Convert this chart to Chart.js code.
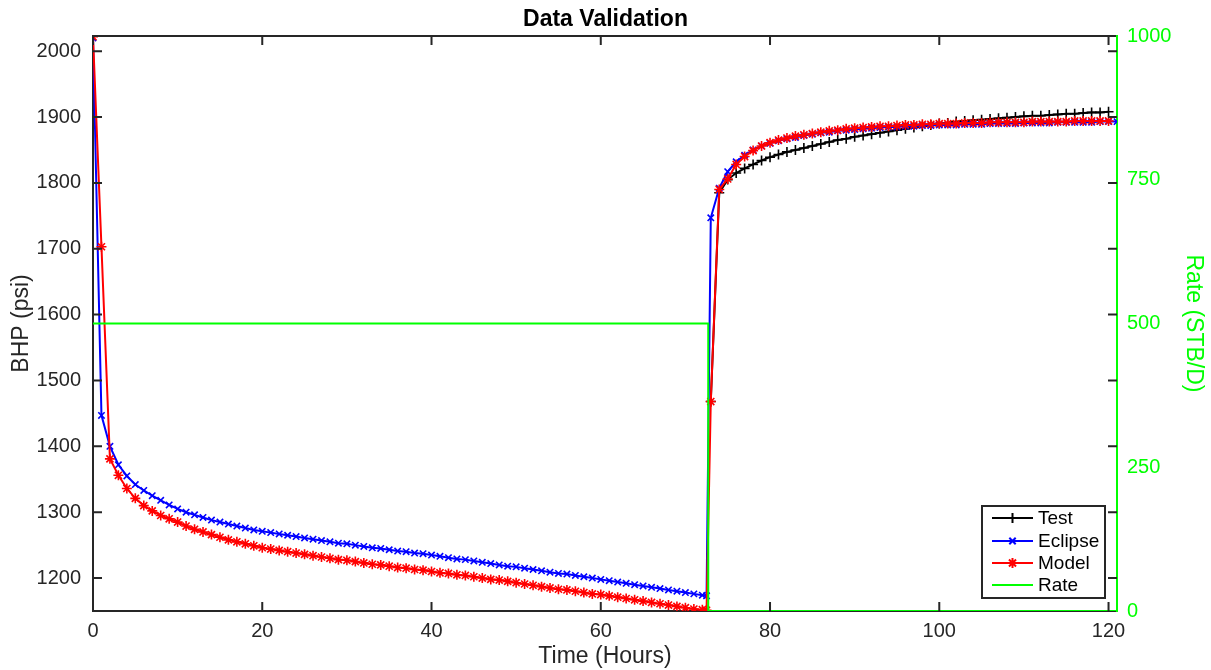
<!DOCTYPE html>
<html>
<head>
<meta charset="utf-8">
<script src="https://cdn.jsdelivr.net/npm/chart.js@4/dist/chart.umd.min.js"></script>
<style>
html,body{margin:0;padding:0;background:#fff;}
canvas{display:block;}
</style>
</head>
<body>
<canvas id="c" width="1211" height="670"></canvas>
<script>
// ---- data ----
const hours = [0,1,2,3,4,5,6,7,8,9,10,11,12,13,14,15,16,17,18,19,20,21,22,23,24,25,26,27,28,29,30,31,32,33,34,35,36,37,38,39,40,41,42,43,44,45,46,47,48,49,50,51,52,53,54,55,56,57,58,59,60,61,62,63,64,65,66,67,68,69,70,71,72,72.5,73,74,75,76,77,78,79,80,81,82,83,84,85,86,87,88,89,90,91,92,93,94,95,96,97,98,99,100,101,102,103,104,105,106,107,108,109,110,111,112,113,114,115,116,117,118,119,120,121];

const eclipseBHP = [2020,1447,1400,1372,1355,1342,1333,1325,1318,1311,1305,1300,1296,1292,1288,1285,1282,1279,1276,1273,1271,1269,1267,1265,1263,1261,1259,1257,1255,1253,1252,1250,1248,1246,1245,1243,1241,1240,1238,1237,1235,1233,1231,1229,1228,1226,1224,1222,1220,1218,1217,1215,1213,1211,1209,1207,1206,1204,1202,1200,1198,1196,1194,1192,1190,1188,1186,1184,1182,1180,1178,1176,1174,1173,
1747,1792,1817,1832,1842,1850,1856,1860,1864,1867,1869,1872,1874,1876,1877,1879,1880,1881,1882,1883,1884,1885,1885,1886,1886,1887,1887,1888,1888,1888,1889,1889,1889,1890,1890,1890,1890,1891,1891,1891,1891,1892,1892,1892,1892,1892,1893,1893,1893];

const modelBHP = [2022,1703,1381,1356,1336,1321,1310,1302,1295,1290,1285,1279,1274,1270,1266,1262,1258,1255,1252,1249,1246,1244,1242,1240,1238,1236,1234,1232,1230,1228,1227,1225,1223,1221,1220,1218,1216,1215,1213,1212,1210,1208,1207,1205,1204,1202,1200,1198,1197,1195,1193,1191,1189,1187,1185,1183,1182,1180,1178,1176,1175,1173,1171,1169,1167,1165,1163,1161,1159,1157,1155,1153,1152,1151,
1468,1790,1806,1828,1840,1849,1856,1861,1865,1868,1871,1873,1875,1877,1879,1880,1882,1883,1884,1885,1886,1886,1887,1888,1888,1889,1889,1890,1890,1890,1891,1891,1891,1892,1892,1892,1892,1892,1893,1893,1893,1893,1893,1894,1894,1894,1894,1894,null];

const testHours = [73,74,75,76,77,78,79,80,81,82,83,84,85,86,87,88,89,90,91,92,93,94,95,96,97,98,99,100,101,102,103,104,105,106,107,108,109,110,111,112,113,114,115,116,117,118,119,120];
const testBHP = [1468,1785,1805,1815,1822,1828,1834,1839,1843,1847,1850,1853,1856,1859,1862,1865,1867,1870,1872,1874,1876,1878,1880,1882,1884,1886,1888,1890,1891,1893,1894,1895,1896,1897,1898,1899,1900,1901,1902,1902,1903,1904,1905,1905,1906,1907,1907,1908];

const rateHours = [0,72.7,72.7,121];
const rateSTBD = [500,500,0,0];

const timeTicks = [0,20,40,60,80,100,120];
const bhpTicks = [1200,1300,1400,1500,1600,1700,1800,1900,2000];
const rateTicks = [0,250,500,750,1000];

// ---- build ----
const pts = (xs, ys) => xs.map((x, i) => ({x: x, y: ys[i]}));
const AX = '#262626';
const FONT = '"Liberation Sans", Arial, sans-serif';
const plain = v => String(v);

const framePlugin = {
  id: 'frame',
  afterDraw(chart) {
    const {ctx, chartArea: a, scales} = chart;
    ctx.save();
    ctx.strokeStyle = AX;
    ctx.lineWidth = 2;
    ctx.beginPath();
    ctx.moveTo(a.left, a.top); ctx.lineTo(a.right - 1, a.top);
    ctx.stroke();
    const TL = 9;
    ctx.beginPath();
    timeTicks.forEach(v => {
      const px = scales.x.getPixelForValue(v);
      ctx.moveTo(px, a.bottom); ctx.lineTo(px, a.bottom - TL);
      ctx.moveTo(px, a.top); ctx.lineTo(px, a.top + TL);
    });
    bhpTicks.forEach(v => {
      const py = scales.y.getPixelForValue(v);
      ctx.moveTo(a.left, py); ctx.lineTo(a.left + TL, py);
      ctx.moveTo(a.right, py); ctx.lineTo(a.right - TL, py);
    });
    ctx.stroke();

    // legend
    const lx = 982, ly = 506, lw = 123, lh = 92;
    ctx.fillStyle = '#fff';
    ctx.fillRect(lx, ly, lw, lh);
    ctx.strokeStyle = AX;
    ctx.lineWidth = 2;
    ctx.strokeRect(lx, ly, lw, lh);
    const rows = [518, 541, 563, 585];
    chart.data.datasets.forEach((ds, i) => {
      const y = rows[i];
      ctx.strokeStyle = ds.borderColor;
      ctx.lineWidth = 2;
      ctx.beginPath();
      ctx.moveTo(992, y); ctx.lineTo(1033, y);
      ctx.stroke();
      if (ds.pointRadius > 0) {
        Chart.helpers.drawPoint(ctx, {pointStyle: ds.pointStyle, radius: ds.pointRadius, borderWidth: ds.pointBorderWidth}, 1012.5, y);
      }
      ctx.fillStyle = '#000';
      ctx.font = '19px ' + FONT;
      ctx.textBaseline = 'middle';
      ctx.textAlign = 'left';
      ctx.fillText(ds.label, 1038, y + 1);
    });
    ctx.restore();
  }
};

new Chart(document.getElementById('c'), {
  type: 'line',
  data: {
    datasets: [
      {label: 'Test', data: pts(testHours, testBHP), borderColor: '#000000', backgroundColor: '#000000',
       borderWidth: 2, pointStyle: 'cross', pointRadius: 5, pointBorderWidth: 1.6, yAxisID: 'y', order: 3},
      {label: 'Eclipse', data: pts(hours, eclipseBHP), borderColor: '#0000ff', backgroundColor: '#0000ff',
       borderWidth: 2, pointStyle: 'crossRot', pointRadius: 4.5, pointBorderWidth: 1.6, yAxisID: 'y', order: 2},
      {label: 'Model', data: pts(hours, modelBHP), borderColor: '#ff0000', backgroundColor: '#ff0000',
       borderWidth: 2, pointStyle: 'star', pointRadius: 5, pointBorderWidth: 1.6, yAxisID: 'y', order: 1},
      {label: 'Rate', data: pts(rateHours, rateSTBD), borderColor: '#00ff00', backgroundColor: '#00ff00',
       borderWidth: 2, pointRadius: 0, yAxisID: 'y1', order: 0}
    ]
  },
  options: {
    responsive: false,
    animation: false,
    layout: {padding: 0},
    plugins: {
      legend: {display: false},
      tooltip: {enabled: false},
      title: {display: true, text: 'Data Validation', color: '#000',
              font: {family: FONT, size: 23, weight: 'bold'}, padding: {top: 6, bottom: 2.4}}
    },
    elements: {line: {tension: 0}},
    scales: {
      x: {
        type: 'linear', min: 0, max: 121,
        afterBuildTicks: s => { s.ticks = timeTicks.map(v => ({value: v})); },
        afterFit: s => { s.height = 59; },
        grid: {display: false, drawTicks: false},
        border: {display: true, color: AX, width: 2},
        ticks: {color: AX, font: {family: FONT, size: 20}, padding: 8, maxRotation: 0, callback: plain},
        title: {display: true, text: 'Time (Hours)', color: AX, font: {family: FONT, size: 23}, padding: {top: 0, bottom: 0}}
      },
      y: {
        type: 'linear', position: 'left', min: 1150, max: 2023,
        afterBuildTicks: s => { s.ticks = bhpTicks.map(v => ({value: v})); },
        afterFit: s => { s.width = 93; },
        grid: {display: false, drawTicks: false},
        border: {display: true, color: AX, width: 2},
        ticks: {color: AX, font: {family: FONT, size: 20}, padding: 12, callback: plain},
        title: {display: true, text: 'BHP (psi)', color: AX, font: {family: FONT, size: 23}, padding: {top: 8, bottom: 0}}
      },
      y1: {
        type: 'linear', position: 'right', min: 0, max: 1000,
        afterBuildTicks: s => { s.ticks = rateTicks.map(v => ({value: v})); },
        afterFit: s => { s.width = 94; },
        grid: {display: false, drawTicks: false},
        border: {display: true, color: '#00ff00', width: 2},
        ticks: {color: '#00ff00', font: {family: FONT, size: 20}, padding: 10, callback: plain},
        title: {display: true, text: 'Rate (STB/D)', color: '#00ff00', font: {family: FONT, size: 23}, padding: {top: 4, bottom: 0}}
      }
    }
  },
  plugins: [framePlugin]
});
</script>
</body>
</html>
